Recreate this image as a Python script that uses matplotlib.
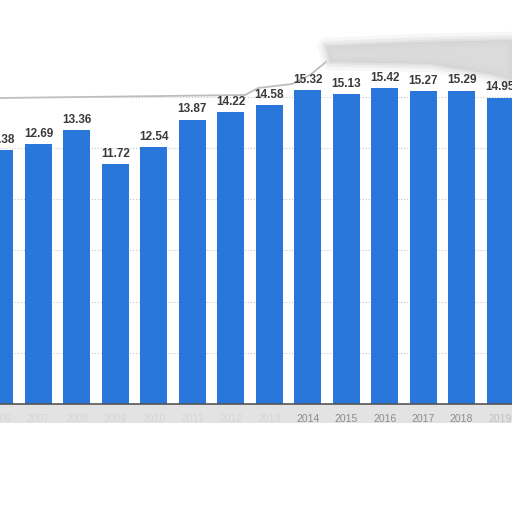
import matplotlib
matplotlib.use('Agg')
import matplotlib.pyplot as plt
from matplotlib.patches import Rectangle, Polygon
from matplotlib.lines import Line2D

years = ['2006', '2007', '2008', '2009', '2010', '2011', '2012',
         '2013', '2014', '2015', '2016', '2017', '2018', '2019']
values = [12.38, 12.69, 13.36, 11.72, 12.54, 13.87, 14.22,
          14.58, 15.32, 15.13, 15.42, 15.27, 15.29, 14.95]
grid_ticks = [0, 2.5, 5, 7.5, 10, 12.5, 15]

W = 512
bar_color = '#2a77dc'

fig = plt.figure(figsize=(5.12, 5.12), dpi=100)
fig.patch.set_facecolor('white')


def px(xp, yp):
    return (xp / W, 1 - yp / W)


# grey band under the axis line (drawn behind the axes)
fig.patches.append(Rectangle(px(0, 423), 1, 19 / W, transform=fig.transFigure,
                             facecolor='#e3e3e3', edgecolor='none', zorder=0))

# torn top edge and smudge
edge = [(0, 98), (245, 95), (258, 88), (292, 84), (310, 75), (326, 62)]
fig.lines.append(Line2D([px(a, b)[0] for a, b in edge], [px(a, b)[1] for a, b in edge],
                        transform=fig.transFigure, color='#bdbdbd', linewidth=1.3, zorder=0))
smudge = [(326, 46), (420, 42), (512, 40), (512, 80), (490, 74), (430, 64), (330, 62)]
for lw, a in [(12, 0.15), (7, 0.25), (3, 0.35)]:
    fig.patches.append(Polygon([px(p, q) for p, q in smudge], closed=True,
                               transform=fig.transFigure, facecolor='none',
                               edgecolor='#cfcfcf', alpha=a, linewidth=lw,
                               joinstyle='round', zorder=0))
fig.patches.append(Polygon([px(p, q) for p, q in smudge], closed=True,
                           transform=fig.transFigure, facecolor='#d3d3d3',
                           edgecolor='none', alpha=0.8, zorder=0))

# axes placed so the first and last bars are cut by the figure edge
base_px = 404
ax = fig.add_axes([0, (W - base_px) / W, 1, base_px / W])
ax.set_zorder(2)
ax.set_xlim(0.5 / 38.5, 512.5 / 38.5)
ax.set_ylim(0, base_px / 20.5)
ax.set_facecolor('none')

x = list(range(len(years)))
ax.bar(x, values, width=0.7, color=bar_color, zorder=3)

for i, v in enumerate(values):
    ax.annotate(f'{v:.2f}', (i, v), xytext=(0, 3), textcoords='offset points',
                ha='center', va='bottom', fontsize=8.5, fontweight='bold',
                family='Liberation Sans', color='#3a3a3a', zorder=5)

ax.set_yticks(grid_ticks)
ax.yaxis.grid(True, linestyle=':', color='#c8c8c8', linewidth=0.8, zorder=0)
ax.tick_params(axis='y', left=False, labelleft=False)
ax.set_xticks(x)
ax.set_xticklabels(years, fontsize=7.5, family='Liberation Sans', color='#8c8c8c')
ax.tick_params(axis='x', length=0, pad=7)
for lab in ax.get_xticklabels():
    yr = int(lab.get_text())
    if yr < 2014:
        lab.set_alpha(0.15)
    elif yr == 2019:
        lab.set_alpha(0.4)

for s in ['top', 'left', 'right']:
    ax.spines[s].set_visible(False)
ax.spines['bottom'].set_color('#555555')
ax.spines['bottom'].set_linewidth(1.2)
ax.spines['bottom'].set_zorder(4)

fig.savefig('out.png', dpi=100, facecolor='white')
